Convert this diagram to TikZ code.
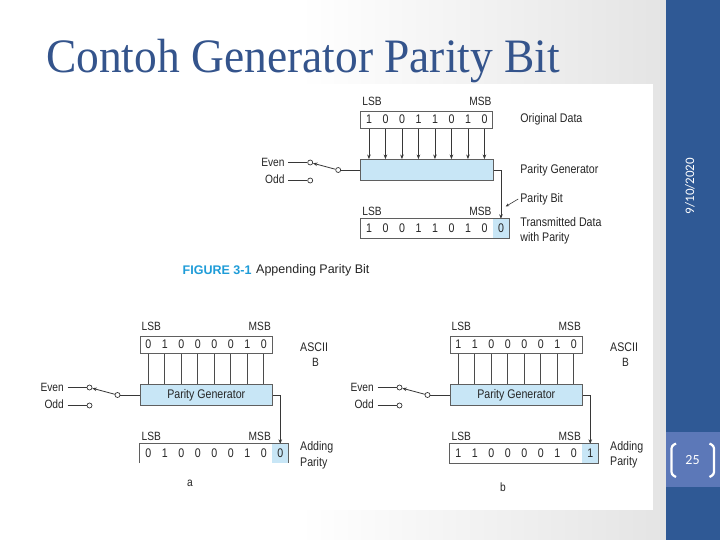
\documentclass[tikz,border=0pt]{standalone}
\usepackage{graphicx}
\usepackage{fontspec}
\setmainfont{Liberation Sans}[FakeStretch=0.85]
\newfontfamily\capfont{Liberation Sans}
\newfontfamily\titlefont{Liberation Serif}
\newfontfamily\datefont{Carlito}
\usetikzlibrary{arrows.meta}
\definecolor{sidebar}{RGB}{47,89,149}
\definecolor{pagebox}{RGB}{92,120,184}
\definecolor{titleblue}{RGB}{52,84,140}
\definecolor{pgfill}{RGB}{200,230,246}
\definecolor{figblue}{RGB}{30,156,216}
\definecolor{linegray}{RGB}{55,55,55}
\definecolor{boxgray}{RGB}{95,95,95}
\definecolor{bgray}{RGB}{228,228,228}
\tikzset{
  databox/.style={draw=boxgray, line width=0.9pt, minimum width=132pt, minimum height=17.3pt, inner sep=0pt},
  bit/.style={font=\fontsize{12.5}{14}\selectfont, inner sep=0pt, text=black!85},
  pgbox/.style={draw=boxgray, line width=0.9pt, fill=pgfill, minimum width=132.5pt, minimum height=21pt, inner sep=0pt, font=\fontsize{12.5}{14}\selectfont, text=black!85},
  outbox/.style={minimum width=148.5pt, minimum height=19pt, inner sep=0pt},
  pcell/.style={fill=pgfill, minimum width=16pt, minimum height=19pt, inner sep=0pt, font=\fontsize{12.5}{14}\selectfont, text=black!85},
  boxline/.style={draw=boxgray, line width=0.9pt},
  contact/.style={circle, draw=linegray, fill=white, line width=0.7pt, minimum size=5pt, inner sep=0pt},
  lbl/.style={font=\fontsize{12}{14}\selectfont, inner sep=1.5pt, text=black!85},
  side/.style={font=\fontsize{12.5}{14}\selectfont, anchor=west, inner sep=0pt, text=black!85},
  conn/.style={draw=linegray, line width=0.8pt},
  vline/.style={draw=linegray!90, line width=0.8pt},
  arr/.style={conn, -{Stealth[length=4.5pt,width=3.6pt]}},
}
\newcommand{\pdiag}[5]{%
  \node[databox] (#1-data) at (66,8.65) {};
  \foreach \bv [count=\i] in {#2} {
    \node[bit] (#1-b\i) at ({16.5*(\i-0.5)},8.65) {\bv};
    \node[bit] (#1-o\i) at ({16.5*(\i-0.5)},117.5) {\bv};
  }
  \node[pgbox] (#1-pg) at (66.25,59) {#5};
  \node[pcell] (#1-p) at (140.25,117.5) {#3};
  \node[outbox] (#1-out) at (74.25,117.5) {};
  \node[lbl, anchor=west] (#1-lsba) at (0,-10) {LSB};
  \node[lbl, anchor=east] (#1-msba) at (132.5,-10) {MSB};
  \node[lbl, anchor=west] (#1-lsbb) at (0,100) {LSB};
  \node[lbl, anchor=east] (#1-msbb) at (132.5,100) {MSB};
  \foreach \i in {1,...,8} \draw[#4] (#1-b\i |- #1-data.south) -- (#1-b\i |- #1-pg.north);
  \node[contact] (#1-piv) at (-22.5,59) {};
  \node[contact] (#1-even) at (-50.5,51.5) {};
  \node[contact] (#1-odd) at (-50.5,69.5) {};
  \node[lbl, anchor=east] (#1-evl) at (-74.5,51) {Even};
  \node[lbl, anchor=east] (#1-odl) at (-74.5,68.5) {Odd};
  \draw[conn] ([xshift=2pt]#1-evl.east |- #1-even) -- (#1-even);
  \draw[conn] ([xshift=2pt]#1-odl.east |- #1-odd) -- (#1-odd);
  \draw[conn] (#1-pg.west) -- (#1-piv);
  \draw[arr] (#1-piv) -- (#1-even);
  \draw[arr] (#1-pg.east) -| (#1-p.north);
}
\begin{document}
\begin{tikzpicture}[x=1pt,y=-1pt]
\useasboundingbox (0,0) rectangle (720,540);
% background
\fill[white] (0,0) rectangle (300,540);
\shade[left color=white, right color=bgray] (300,0) rectangle (666,540);
\fill[white] (20,84) rectangle (653,510);
\fill[sidebar] (666,0) rectangle (720,540);
\fill[pagebox] (666,432) rectangle (720,487);
% title
\node[anchor=base west, inner sep=0pt, text=titleblue] (title) at (46,73)
  {\titlefont\fontsize{48}{50}\selectfont\scalebox{0.947}[1]{Contoh Generator Parity Bit}};
% sidebar texts
\node[rotate=90, text=white, inner sep=0pt, font=\datefont\fontsize{13}{15}\selectfont] (date) at (690,186) {9/10/2020};
\node[text=white, inner sep=0pt, font=\datefont\fontsize{14}{16}\selectfont] (pnum) at (692.5,460) {25};
\draw[white, line width=2.2pt, rounded corners=2.5pt] (676,443.5) -- (671.5,446) -- (671.5,474.5) -- (676,477);
\draw[white, line width=2.2pt, rounded corners=2.5pt] (709.5,443.5) -- (714,446) -- (714,474.5) -- (709.5,477);
% top figure
\begin{scope}[shift={(360.7,111)}]
  \pdiag{t}{1,0,0,1,1,0,1,0}{0}{arr}{}
  \draw[boxline] (t-out.south west) rectangle (t-out.north east);
  \node[side] (t-l1) at (159.5,8) {Original Data};
  \node[side] (t-l2) at (159.5,59.5) {Parity Generator};
  \node[side] (t-l3) at (159.5,88) {Parity Bit};
  \node[side] (t-l4) at (159.5,111) {Transmitted Data};
  \node[side] (t-l5) at (159.5,127) {with Parity};
  \coordinate (t-ptip) at (145,95.5);
  \draw[conn, line width=0.6pt, -{Stealth[length=3.5pt,width=3pt]}] ([xshift=-2pt]t-l3.west) -- (t-ptip);
\end{scope}
\node[anchor=west, inner sep=0pt, font=\capfont\fontsize{12.5}{14}\selectfont\bfseries, text=figblue] (figno) at (182.5,270) {FIGURE 3-1};
\node[anchor=west, inner sep=0pt, font=\capfont\fontsize{12.5}{14}\selectfont, text=black!85] (figcap) at (256,270) {Appending Parity Bit};
% figure a
\begin{scope}[shift={(140,336)}]
  \pdiag{a}{0,1,0,0,0,0,1,0}{0}{vline}{Parity Generator}
  \draw[boxline] (a-out.south west) -- (a-out.north west) -- (a-out.north east) -- (a-out.south east);
  \node[side] (a-l1) at (160,11) {ASCII};
  \node[lbl] (a-l2) at (175.5,26) {B};
  \node[side] (a-l3) at (160,111) {Adding};
  \node[side] (a-l4) at (160,127) {Parity};
  \node[lbl] (a-cap) at (50,147) {a};
\end{scope}
% figure b
\begin{scope}[shift={(450,336)}]
  \pdiag{b}{1,1,0,0,0,0,1,0}{1}{vline}{Parity Generator}
  \draw[boxline] (b-out.south west) rectangle (b-out.north east);
  \node[side] (b-l1) at (160,11) {ASCII};
  \node[lbl] (b-l2) at (175.5,26) {B};
  \node[side] (b-l3) at (160,111) {Adding};
  \node[side] (b-l4) at (160,126) {Parity};
  \node[lbl] (b-cap) at (53,151) {b};
\end{scope}
\end{tikzpicture}
\end{document}
